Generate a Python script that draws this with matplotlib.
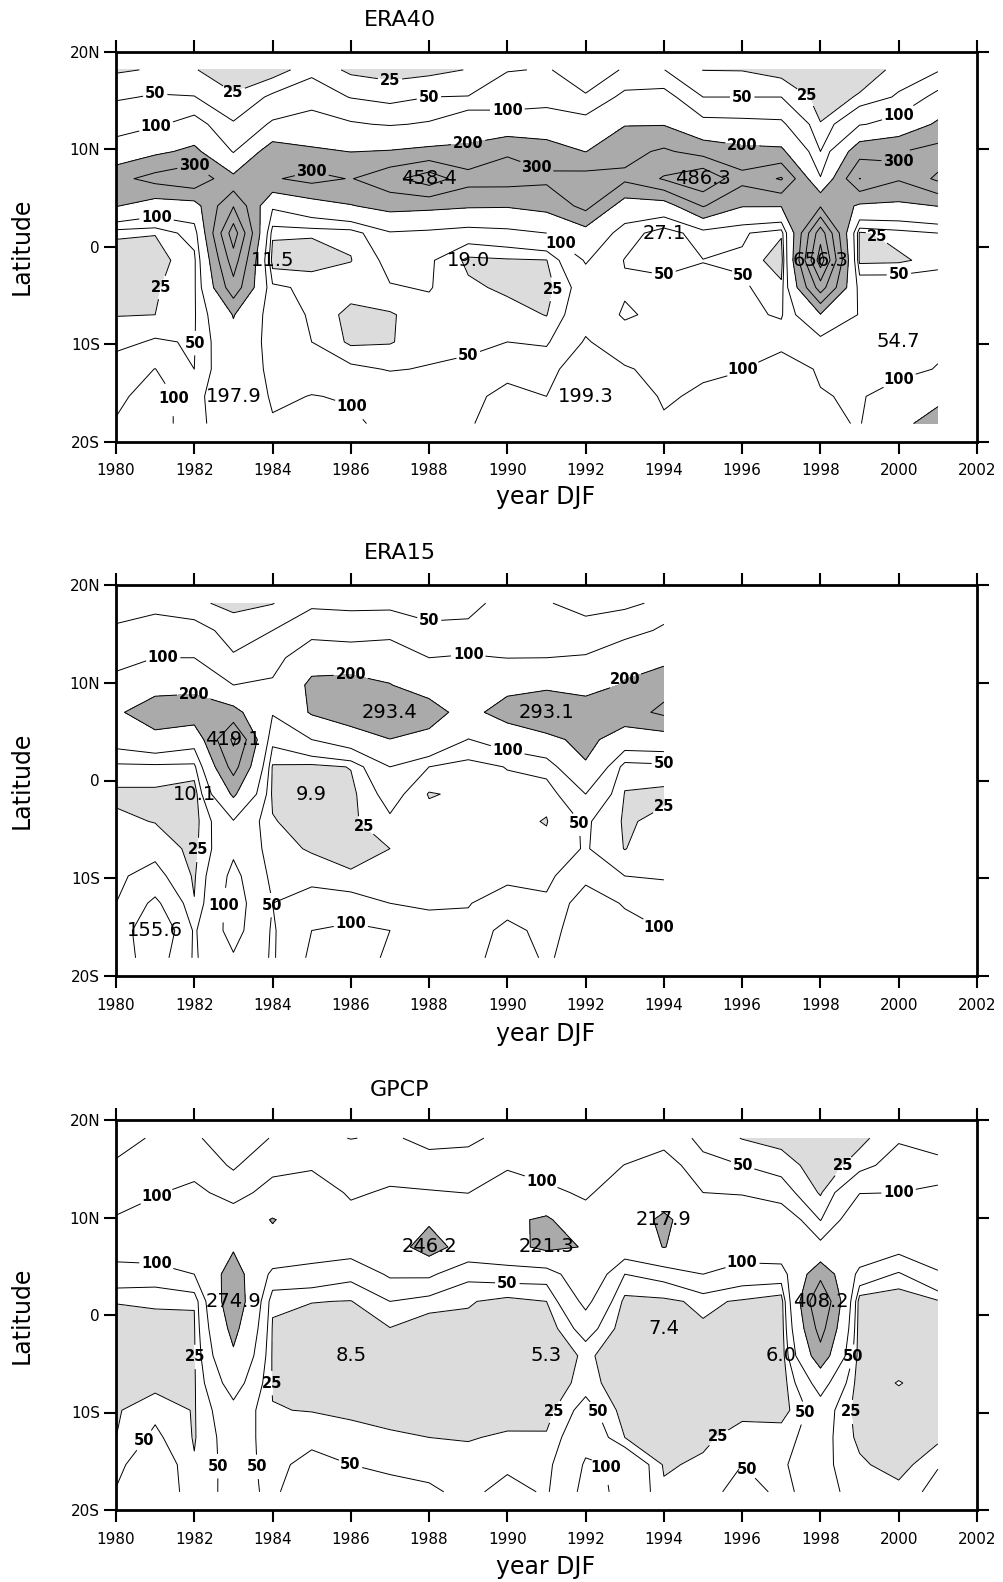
import numpy as np
import matplotlib
matplotlib.use("Agg")
import matplotlib.pyplot as plt

# ---------------- data ----------------
lats = [18.139, 15.349, 12.558, 9.767, 6.977, 4.186, 1.395,
        -1.395, -4.186, -6.977, -9.767, -12.558, -15.349, -18.139]
years_long = list(range(1980, 2002))
years_era15 = list(range(1980, 1995))
levels = [25, 50, 100, 200, 300, 400, 500, 600]
x_ticks = list(range(1980, 2003, 2))
y_ticks = [-20, -10, 0, 10, 20]
y_ticklabels = ["20S", "10S", "0", "10N", "20N"]

# rows: latitude (north -> south), columns: years
era40 = [
    [22, 27, 26, 15, 12, 40, 20, 18, 18, 26, 48, 52, 38, 52, 50.5, 24.5, 24, 14, 5, 15, 30, 45],
    [46, 53, 51, 27, 56, 75, 48, 36, 50, 51, 75, 78, 52, 116, 123, 50, 50, 50, 15, 27, 55, 118],
    [75, 91, 125, 53, 108, 127, 106, 95, 106, 153, 127, 135, 125, 195, 195, 117, 114, 110, 26, 95, 123, 216],
    [129, 180, 222, 95, 252, 215, 198, 205, 221, 220, 290, 250, 198, 270, 315, 260, 226, 218, 50, 259, 294, 336],
    [271, 334, 378, 222, 290, 330, 295, 370, 458.4, 340, 340, 320, 340, 320, 410, 486.3, 333, 410, 104, 402, 310, 420],
    [205, 150, 160, 395, 110, 154, 195, 230, 222, 210, 207, 230, 330, 150, 150, 307, 205, 205, 290, 185, 180, 202],
    [28, 26, 68, 557, 30, 28, 30, 94, 85, 70, 80, 100, 161, 73, 27.1, 74, 55, 29, 560, 20, 35, 50],
    [15, 15, 40, 455, 11.5, 12, 24, 60, 55, 19.0, 22, 24, 105, 48, 35, 49, 45, 8, 656.3, 18, 20, 35],
    [16, 22, 42, 363, 56, 43, 40, 48, 52, 30, 20, 15, 70, 55, 63, 60, 55, 32, 450, 77, 76, 78],
    [24, 25, 45, 205, 65, 47, 15, 22, 40, 40, 35, 24, 80, 45, 60, 70, 60, 45, 195, 95, 70, 85],
    [40, 54, 47, 170, 72, 50, 20, 23, 40, 45, 50, 45, 105, 70, 75, 85, 80, 75, 76, 85, 54.7, 80],
    [68, 101, 50, 165, 80, 70, 57, 48, 52, 55, 70, 75, 150, 105, 85, 90, 99, 144, 90, 80, 70, 105],
    [85, 130, 65, 197.9, 88, 102, 95, 75, 75, 75, 128, 100, 199.3, 140, 92, 110, 110, 150, 105, 90, 150, 160],
    [105, 130, 65, 175, 108, 115, 110, 85, 85, 98, 110, 120, 180, 160, 108, 115, 120, 130, 110, 97, 160, 265],
]

era15 = [
    [35, 40, 30, 18, 24, 45, 45, 45, 35, 42, 60, 52, 40, 45, 55],
    [55, 65, 63, 38, 50, 70, 63, 65, 58, 56, 80, 75, 61, 67, 113],
    [85, 100, 100, 53, 70, 160, 150, 170, 100, 106, 99, 100, 105, 167, 170],
    [115, 150, 170, 100, 111, 219, 231, 202, 170, 150, 170, 178, 160, 208, 267],
    [180, 272, 260, 230, 105, 210, 270, 293.4, 230, 170, 243, 293.1, 258, 260, 320],
    [130, 160, 130, 419.1, 60, 100, 135, 198, 180, 98, 133, 172, 230, 145, 149],
    [40, 40, 40, 340, 22, 18, 26, 100, 50, 33, 52, 66, 190, 32, 38],
    [20, 20, 10.1, 215, 20, 9.9, 18, 65, 23, 30, 35, 30, 100, 24, 20],
    [30, 24, 15, 95, 27, 12, 20, 44, 35, 35, 30, 24, 55, 22, 31],
    [40, 40, 18, 90, 35, 22, 22, 25, 40, 42, 40, 30, 53, 24, 45],
    [45, 61, 22, 115, 40, 40, 26, 35, 45, 48, 45, 40, 85, 50, 48],
    [50, 112, 26, 125, 50, 65, 67, 50, 46, 49, 60, 57, 130, 95, 62],
    [60, 155.6, 45, 120, 45, 100, 112, 100, 62, 55, 125, 75, 140, 120, 100],
    [70, 130, 45, 95, 45, 110, 115, 95, 70, 85, 120, 95, 120, 110, 110],
]

gpcp = [
    [35, 55, 55, 30, 52, 60, 49, 55, 40, 42, 62, 60, 65, 70, 75, 40, 24, 15, 5, 18, 45, 42],
    [55, 70, 75, 45, 80, 93, 75, 80, 64, 67, 92, 78, 75, 101, 132, 60, 50, 39, 10, 36, 70, 55],
    [80, 95, 117, 73, 126.5, 130, 93, 106, 104, 99, 136, 112, 92, 130, 150, 100, 98, 65, 22, 98, 100, 117],
    [104, 125, 140, 140, 205, 150, 118, 130, 185, 140, 180, 215, 121, 150, 217.9, 140, 120, 152, 48, 150, 150, 140],
    [130, 150, 150, 190, 170, 140, 130, 150, 246.2, 150, 170, 221.3, 195, 140, 203, 150, 140, 150, 117, 160, 120, 130],
    [75, 68, 100, 245, 82, 74, 60, 108, 110, 59, 66, 65, 160, 50, 62, 100, 71, 70, 268, 80, 45, 95],
    [26, 30, 26, 274.9, 28, 26, 24, 50, 35, 27, 18, 25, 115, 18, 20, 30, 22, 11, 408.2, 10, 8, 22],
    [15, 12, 23, 230, 23, 10, 10, 24, 12, 19, 10, 8, 68, 10, 7.4, 22, 10, 8, 340, 8, 7, 12],
    [15, 12, 22, 185, 22, 9, 8.5, 12, 10, 12, 8, 5.3, 30, 9, 8, 15, 10, 6.0, 260, 8, 10, 12],
    [18, 15, 22, 130, 23, 10, 10, 12, 10, 12, 9, 8, 35, 10, 9, 12, 10, 8, 127, 10, 26.5, 12],
    [22, 42, 23, 82, 26, 24, 20, 15, 12, 14, 12, 15, 65, 14, 12, 12, 18, 12, 72, 12, 12, 15],
    [25, 57, 23, 70, 35, 40, 34, 29, 25, 23, 29, 28, 85, 25, 18, 20, 35, 40, 65, 18, 10, 18],
    [40, 80, 27, 65, 40, 62, 50, 42, 38, 36, 42, 40, 105, 95, 22, 29, 50, 48, 60, 30, 12, 48],
    [52, 75, 35, 60, 45, 70, 60, 64, 56, 40, 64, 45, 115, 90, 29, 40, 60, 45, 60, 40, 35, 60],
]

# contour-line labels: (level, year, lat)
era40_clabels = [
    (50, 1981.0, 15.7), (25, 1983.0, 15.6), (25, 1987.0, 16.75), (50, 1988.0, 15.2),
    (100, 1981.04, 12.1), (100, 1990.0, 14.0), (300, 1982.0, 8.4), (300, 1985.0, 8.2),
    (200, 1989.0, 10.6), (300, 1990.83, 9.06), (100, 1981.04, 3.1), (25, 1981.25, -4.3),
    (50, 1982.1, -9.9), (100, 1981.5, -15.6), (100, 1986.0, -16.4), (50, 1989.0, -11.1),
    (25, 1991.1, -4.3), (50, 1996.0, 15.2), (25, 1997.65, 15.4), (100, 2000.0, 13.5),
    (200, 1996.0, 10.4), (300, 2000.0, 8.7), (100, 1991.56, 1.4), (50, 1994.0, -3.6),
    (50, 1996.0, -3.0), (25, 1999.5, 1.4), (50, 2000.0, -2.7), (100, 1996.0, -12.6),
    (100, 2000.0, -13.5),
]
era15_clabels = [
    (50, 1988.0, 16.3), (100, 1981.2, 12.5), (100, 1989.0, 12.9), (200, 1986.0, 10.8),
    (200, 1982.0, 8.9), (200, 1993.0, 10.3), (100, 1990.0, 3.0), (50, 1994.0, 1.6),
    (25, 1986.4, -4.4), (25, 1994.0, -2.7), (50, 1991.9, -4.4), (25, 1982.1, -7.1),
    (100, 1982.8, -12.75), (50, 1984.0, -12.75), (100, 1986.0, -14.6), (100, 1993.8, -15.5),
]
gpcp_clabels = [
    (100, 1981.04, 12.1), (100, 1981.04, 5.3), (50, 1990.0, 3.4), (25, 1982.1, -4.3),
    (25, 1983.9, -7.0), (50, 1980.7, -12.8), (50, 1982.45, -15.5), (50, 1983.8, -15.5),
    (50, 1986.0, -15.2), (100, 1990.85, 13.5), (50, 1996.0, 15.2), (25, 1998.5, 15.5),
    (100, 2000.0, 12.5), (100, 1996.0, 5.4), (50, 1998.85, -4.3), (25, 1991.2, -9.9),
    (50, 1992.3, -9.9), (25, 1995.4, -12.6), (50, 1997.5, -9.9), (25, 1998.9, -9.9),
    (100, 1992.8, -15.5), (50, 1996.2, -15.5),
]

# local high / low labels: (year, latitude row index)
era40_hl = [(1983, 12), (1984, 7), (1988, 4), (1989, 7), (1992, 12),
            (1994, 6), (1995, 4), (1998, 7), (2000, 10)]
era15_hl = [(1981, 12), (1982, 7), (1983, 5), (1985, 7), (1987, 4), (1991, 4)]
gpcp_hl = [(1983, 6), (1986, 8), (1988, 4), (1991, 4), (1991, 8),
           (1994, 3), (1994, 7), (1997, 8), (1998, 6)]

# ---------------- figure ----------------
LIGHT = "#dcdcdc"
DARK = "#aaaaaa"
W, H = 1004, 1582
LEFT, RIGHT = 116, 977
fig = plt.figure(figsize=(W / 100, H / 100), dpi=100)


def panel(top, bottom, years, Z, clabels, hl, title, title_y, xlabel_y):
    ax = fig.add_axes([LEFT / W, 1 - bottom / H, (RIGHT - LEFT) / W, (bottom - top) / H])
    ax.set_xlim(1980, 2002)
    ax.set_ylim(-20, 20)
    Zarr = np.array(Z, dtype=float)
    Zf = Zarr[::-1]
    la = np.array(lats)[::-1]
    ax.contourf(years, la, Zf, levels=[-1e9, 25, 200, 1e9],
                colors=[LIGHT, "white", DARK])
    for lev in levels:
        if Zarr.max() <= lev:
            continue
        cs = ax.contour(years, la, Zf, levels=[lev], colors="black", linewidths=0.7)
        pos = [(x, y) for l, x, y in clabels if l == lev]
        if pos:
            with plt.rc_context({"font.weight": "bold"}):
                txts = ax.clabel(cs, manual=pos, inline=True,
                                 inline_spacing=2, fmt="%d", fontsize=10.5)
            for t in txts:
                t.set_rotation(0)
                t.set_fontweight("bold")
    for yr, ri in hl:
        v = Zarr[ri][yr - 1980]
        ax.text(yr, lats[ri], f"{v:.1f}", ha="center", va="center",
                fontsize=14, zorder=5)
    ax.set_xticks(x_ticks)
    ax.set_xticklabels([str(x) for x in x_ticks])
    ax.set_yticks(y_ticks)
    ax.set_yticklabels(y_ticklabels)
    ax.tick_params(axis="both", direction="out", length=8.5, width=1.5,
                   top=True, right=True, labeltop=False, labelright=False,
                   labelsize=11)
    ax.tick_params(axis="x", pad=7)
    ax.tick_params(axis="y", pad=3)
    for s in ax.spines.values():
        s.set_linewidth(2)
        s.set_zorder(10)
    fig.text(400 / W, 1 - title_y / H, title, ha="center", va="center", fontsize=16)
    fig.text(546 / W, 1 - xlabel_y / H, "year DJF", ha="center", va="center", fontsize=17)
    fig.text(22 / W, 1 - (top + bottom) / 2 / H, "Latitude", rotation=90,
             ha="center", va="center", fontsize=17)
    return ax


panel(51.7, 441.7, years_long, era40, era40_clabels, era40_hl, "ERA40", 20, 497)
panel(585, 976, years_era15, era15, era15_clabels, era15_hl, "ERA15", 553, 1034)
panel(1120, 1510, years_long, gpcp, gpcp_clabels, gpcp_hl, "GPCP", 1090, 1567)

fig.savefig("out.png", dpi=100)
